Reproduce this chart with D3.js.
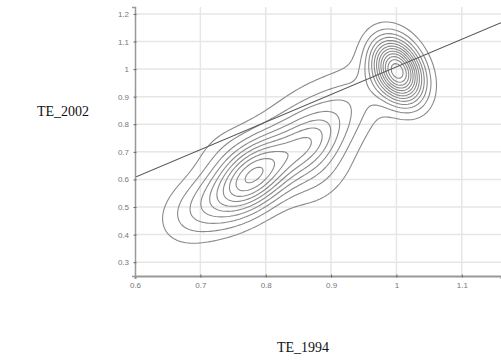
<!DOCTYPE html>
<html>
<head>
<meta charset="utf-8">
<script src="https://cdn.jsdelivr.net/npm/d3@7"></script>
<style>
  body { margin: 0; background: #fff; }
  svg { display: block; }
  .tick text { font-family: "Liberation Sans", Arial, sans-serif; font-size: 8px; fill: #777; }
  .axis-title { font-family: "Liberation Serif", "Times New Roman", serif; font-size: 14px; fill: #111; }
</style>
</head>
<body>
<svg id="chart" width="501" height="363"></svg>
<script>
// tick values
const xTicks = [0.6, 0.7, 0.8, 0.9, 1.0, 1.1];
const yTicks = [0.3, 0.4, 0.5, 0.6, 0.7, 0.8, 0.9, 1.0, 1.1, 1.2];

// density bumps: centre, spread, tilt, height (in contour steps)
const bumpX   = [1.002, 0.780, 0.865, 0.690, 0.880, 0.921, 0.860, 0.730];
const bumpY   = [0.993, 0.612, 0.735, 0.490, 0.620, 0.834, 0.850, 0.720];
const bumpSx  = [0.026, 0.045, 0.032, 0.038, 0.038, 0.046, 0.050, 0.035];
const bumpSy  = [0.077, 0.100, 0.075, 0.085, 0.090, 0.127, 0.100, 0.070];
const bumpRho = [-0.30, 0.50, 0.40, 0.30, 0.30, 0.60, 0.50, 0.30];
const bumpAmp = [13.3, 10, 3.5, 2, 1.5, 2.3, 1.4, 0.7];

// contour levels
const levels = [1, 2, 3, 4, 5, 6, 7, 8, 9, 10, 11, 12, 13];

// fitted line TE_2002 = a + b * TE_1994
const fitIntercept = 0.008;
const fitSlope = 1.0;

const svg = d3.select('#chart');
const plotL = 135, plotR = 501, plotT = 7, plotB = 276;

const x = d3.scaleLinear().domain([0.6, 1.16]).range([plotL, plotR]);
const y = d3.scaleLinear().domain([0.25, 1.225]).range([plotB, plotT]);

// grid lines
svg.append('g')
  .selectAll('line')
  .data(xTicks.slice(1))
  .join('line')
  .attr('x1', d => x(d)).attr('x2', d => x(d))
  .attr('y1', plotT).attr('y2', plotB)
  .attr('stroke', '#e6e6e6').attr('stroke-width', 1.5);

svg.append('g')
  .selectAll('line')
  .data(yTicks)
  .join('line')
  .attr('x1', plotL).attr('x2', plotR)
  .attr('y1', d => y(d)).attr('y2', d => y(d))
  .attr('stroke', '#e6e6e6').attr('stroke-width', 1.5);

// density grid (2px cells)
const cell = 2;
const nx = Math.ceil((plotR - plotL) / cell);
const ny = Math.ceil((plotB - plotT) / cell);
const values = new Float64Array(nx * ny);
for (let j = 0; j < ny; j++) {
  const vy = y.invert(plotT + (j + 0.5) * cell);
  for (let i = 0; i < nx; i++) {
    const vx = x.invert(plotL + (i + 0.5) * cell);
    let s = 0;
    for (let k = 0; k < bumpX.length; k++) {
      const dx = (vx - bumpX[k]) / bumpSx[k];
      const dy = (vy - bumpY[k]) / bumpSy[k];
      const r = bumpRho[k];
      const q = (dx * dx - 2 * r * dx * dy + dy * dy) / (1 - r * r);
      s += bumpAmp[k] * Math.exp(-0.5 * q);
    }
    values[i + j * nx] = s;
  }
}

const contours = d3.contours().size([nx, ny]).thresholds(levels)(values);
const path = d3.geoPath(d3.geoIdentity().scale(cell).translate([plotL, plotT]));

svg.append('defs').append('clipPath').attr('id', 'plot-clip')
  .append('rect').attr('x', plotL).attr('y', plotT).attr('width', plotR - plotL).attr('height', plotB - plotT);

svg.append('g')
  .attr('clip-path', 'url(#plot-clip)')
  .selectAll('path')
  .data(contours)
  .join('path')
  .attr('d', path)
  .attr('fill', 'none')
  .attr('stroke', '#8a8a8a')
  .attr('stroke-width', 1.1);

// fitted line
const fitX = x.domain();
svg.append('line')
  .attr('clip-path', 'url(#plot-clip)')
  .attr('x1', x(fitX[0])).attr('y1', y(fitIntercept + fitSlope * fitX[0]))
  .attr('x2', x(fitX[1])).attr('y2', y(fitIntercept + fitSlope * fitX[1]))
  .attr('stroke', '#555').attr('stroke-width', 1.1);

// axes
const xAxis = svg.append('g')
  .attr('transform', `translate(0,${plotB})`)
  .call(d3.axisBottom(x).tickValues(xTicks).tickFormat(d3.format('~g')).tickSize(3).tickPadding(3));
xAxis.select('.domain').attr('stroke', '#999').attr('stroke-width', 2);
xAxis.selectAll('.tick line').attr('stroke', '#666').attr('transform', 'translate(0,-1.5)');

const yAxis = svg.append('g')
  .attr('transform', `translate(${plotL},0)`)
  .call(d3.axisLeft(y).tickValues(yTicks).tickFormat(d3.format('~g')).tickSize(3).tickPadding(3));
yAxis.select('.domain').attr('stroke', '#999').attr('stroke-width', 1.5);
yAxis.selectAll('.tick line').attr('stroke', '#666').attr('transform', 'translate(1.5,0)');

// axis titles
svg.append('text').attr('class', 'axis-title').attr('x', 37).attr('y', 116).text('TE_2002');
svg.append('text').attr('class', 'axis-title').attr('x', 277).attr('y', 352).text('TE_1994');
</script>
</body>
</html>
